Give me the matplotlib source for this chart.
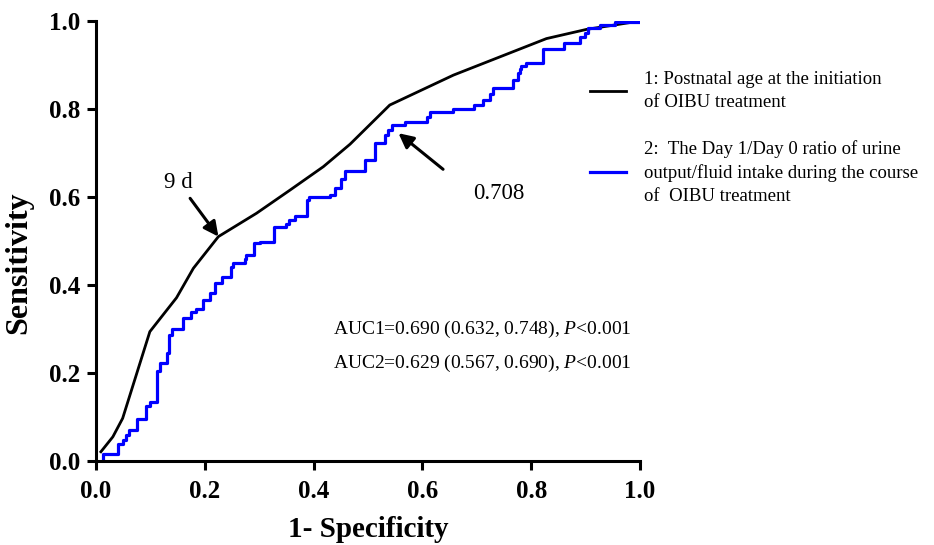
import matplotlib
matplotlib.use("Agg")
import matplotlib.pyplot as plt

plt.rcParams['font.family'] = ['Liberation Serif', 'DejaVu Serif']
plt.rcParams['mathtext.fontset'] = 'custom'
plt.rcParams['mathtext.rm'] = 'Liberation Serif'
plt.rcParams['mathtext.it'] = 'Liberation Serif:italic'

# ROC curve 1: Postnatal age at initiation of OIBU treatment
fpr1 = [0.009, 0.031, 0.049, 0.099, 0.148, 0.179, 0.225, 0.295, 0.357, 0.418,
        0.467, 0.540, 0.657, 0.828, 0.902, 1.000]
tpr1 = [0.021, 0.055, 0.097, 0.294, 0.371, 0.438, 0.510, 0.563, 0.616, 0.669,
        0.720, 0.809, 0.877, 0.960, 0.981, 1.000]

# ROC curve 2: Day1/Day0 ratio urine output / fluid intake (steps-post)
fpr2 = [0.012, 0.012, 0.041, 0.049, 0.056, 0.060, 0.075, 0.091, 0.100, 0.113,
        0.118, 0.130, 0.135, 0.140, 0.160, 0.175, 0.184, 0.196, 0.210, 0.219,
        0.231, 0.248, 0.252, 0.274, 0.276, 0.280, 0.291, 0.302, 0.327, 0.349,
        0.355, 0.366, 0.388, 0.392, 0.430, 0.440, 0.450, 0.458, 0.494, 0.513,
        0.531, 0.537, 0.544, 0.568, 0.608, 0.614, 0.657, 0.694, 0.712, 0.724,
        0.730, 0.766, 0.775, 0.780, 0.782, 0.790, 0.804, 0.821, 0.860, 0.890,
        0.899, 0.905, 0.926, 0.954, 1.000]
tpr2 = [0.006, 0.015, 0.039, 0.048, 0.060, 0.070, 0.095, 0.125, 0.135, 0.205,
        0.222, 0.245, 0.286, 0.300, 0.324, 0.338, 0.345, 0.366, 0.381, 0.404,
        0.419, 0.442, 0.451, 0.460, 0.468, 0.468, 0.495, 0.498, 0.531, 0.539,
        0.548, 0.557, 0.593, 0.601, 0.605, 0.620, 0.640, 0.658, 0.684, 0.722,
        0.741, 0.752, 0.764, 0.771, 0.782, 0.794, 0.801, 0.809, 0.820, 0.835,
        0.847, 0.866, 0.881, 0.892, 0.898, 0.905, 0.905, 0.936, 0.950, 0.964,
        0.972, 0.983, 0.990, 0.998, 1.000]

label1 = "1: Postnatal age at the initiation\nof OIBU treatment"
label2 = "2:  The Day 1/Day 0 ratio of urine\noutput/fluid intake during the course\nof  OIBU treatment"

ticks = [0.0, 0.2, 0.4, 0.6, 0.8, 1.0]
tick_labels = ["0.0", "0.2", "0.4", "0.6", "0.8", "1.0"]

auc_text = [r"AUC1=0.690 (0.632, 0.748), $\it{P}$<0.001",
            r"AUC2=0.629 (0.567, 0.690), $\it{P}$<0.001"]

cut1 = (0.225, 0.510)   # 9 d
cut2 = (0.556, 0.745)   # 0.708

fig = plt.figure(figsize=(9.34, 5.45), dpi=100)
ax = fig.add_axes([96/934, 1 - 461/545, 544/934, 440/545])

ax.plot(fpr1, tpr1, color='black', lw=2.0, label=label1, solid_joinstyle='miter')
ax.plot(fpr2, tpr2, color='#0000ff', lw=2.3, drawstyle='steps-post', label=label2)

ax.set_xlim(0, 1)
ax.set_ylim(0, 1)
ax.set_xticks(ticks)
ax.set_yticks(ticks)
ax.set_xticklabels(tick_labels, fontsize=18, fontweight='bold')
ax.set_yticklabels(tick_labels, fontsize=18, fontweight='bold')
for s in ['top', 'right']:
    ax.spines[s].set_visible(False)
for s in ['left', 'bottom']:
    ax.spines[s].set_linewidth(2.2)
ax.tick_params(axis='both', direction='out', length=6.5, width=2.2)
ax.tick_params(axis='x', pad=7)
ax.tick_params(axis='y', pad=5)

ax.set_xlabel("1- Specificity", fontsize=21, fontweight='bold')
ax.set_ylabel("Sensitivity", fontsize=23, fontweight='bold')
ax.xaxis.set_label_coords(0.5, -0.124)
ax.yaxis.set_label_coords(-0.116, 0.45)

arrow = dict(arrowstyle='-|>', color='black', lw=2.2, mutation_scale=22, shrinkA=0, shrinkB=0)
ax.annotate("", xy=cut1, xytext=(0.173, 0.597), arrowprops=arrow)
ax.text(0.151, 0.632, "9 d", fontsize=16.5, ha='center', va='center')
ax.annotate("", xy=cut2, xytext=(0.638, 0.663), arrowprops=arrow)
ax.text(0.740, 0.608, "0.708", fontsize=16.5, ha='center', va='center')

ax.text(0.436, 0.298, auc_text[0], fontsize=14, ha='left', va='center')
ax.text(0.436, 0.222, auc_text[1], fontsize=14, ha='left', va='center')

leg = ax.legend(loc='upper left', bbox_to_anchor=(590/934, 1 - 71/545), bbox_transform=fig.transFigure,
                frameon=False, fontsize=13.5, handlelength=1.9, handletextpad=1.0,
                labelspacing=1.55, borderpad=0, borderaxespad=0)
for t in leg.get_texts():
    t.set_linespacing(1.45)

fig.savefig("out.png", dpi=100)
